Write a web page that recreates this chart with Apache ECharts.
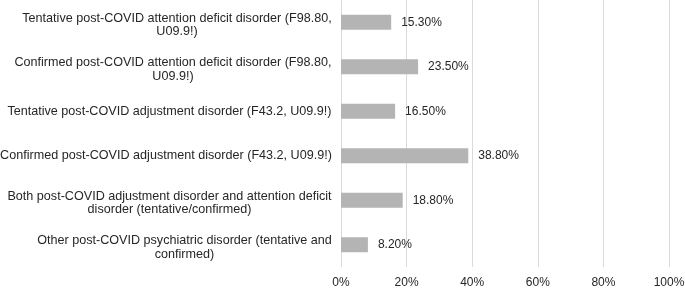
<!DOCTYPE html>
<html>
<head>
<meta charset="utf-8">
<script src="https://cdn.jsdelivr.net/npm/echarts@6/dist/echarts.min.js"></script>
<style>
  html, body { margin: 0; padding: 0; background: #fff; }
  #chart { width: 685px; height: 288px; }
</style>
</head>
<body>
<div id="chart"></div>
<script>
// categories, top to bottom (line breaks as in the original)
const categories = [
  'Tentative post-COVID attention deficit disorder (F98.80,\nU09.9!)',
  'Confirmed post-COVID attention deficit disorder (F98.80,\nU09.9!)',
  'Tentative post-COVID adjustment disorder (F43.2, U09.9!)',
  'Confirmed post-COVID adjustment disorder (F43.2, U09.9!)',
  'Both post-COVID adjustment disorder and attention deficit\ndisorder (tentative/confirmed)',
  'Other post-COVID psychiatric disorder (tentative and\nconfirmed)'
]
const percent = [15.3, 23.5, 16.5, 38.8, 18.8, 8.2]
const xTicks = [0, 20, 40, 60, 80, 100]

const FONT = '"Liberation Sans", Arial, sans-serif'
const TEXT_COLOR = '#262626'
const CAT_SIZE = 12.6

// each label block is right aligned, lines inside it centred;
// two-line blocks sit a little below the bar centre in the original
const ctx = document.createElement('canvas').getContext('2d')
ctx.font = CAT_SIZE + 'px ' + FONT
const rich = {}
categories.forEach((c, i) => {
  const w = Math.ceil(Math.max(...c.split('\n').map(l => ctx.measureText(l).width)))
  const base = { width: w, align: 'center', lineHeight: 14, fontSize: CAT_SIZE, fontFamily: FONT, color: TEXT_COLOR }
  rich['c' + i] = base
  rich['f' + i] = Object.assign({}, base, { lineHeight: 19, verticalAlign: 'bottom' })
})

const chart = echarts.init(document.getElementById('chart'), null, { renderer: 'canvas' })
chart.setOption({
  animation: false,
  grid: { left: 341, right: 16, top: 0, bottom: 21, containLabel: false, outerBoundsMode: 'none' },
  xAxis: {
    type: 'value',
    min: xTicks[0],
    max: xTicks[xTicks.length - 1],
    interval: 20,
    axisLine: { show: false },
    axisTick: { show: false },
    axisLabel: {
      margin: 10,
      fontSize: 12,
      fontFamily: FONT,
      color: TEXT_COLOR,
      formatter: v => v + '%'
    },
    splitLine: { show: true, lineStyle: { color: '#d9d9d9', width: 1 } }
  },
  yAxis: {
    type: 'category',
    inverse: true,
    data: categories,
    axisLine: { show: false },
    axisTick: { show: false },
    axisLabel: {
      interval: 0,
      margin: 9,
      rich: rich,
      formatter: (value, index) => {
        const lines = value.split('\n')
        return lines.map((l, k) => {
          const key = (k === 0 && lines.length > 1 ? 'f' : 'c') + index
          return '{' + key + '|' + l + '}'
        }).join('\n')
      }
    }
  },
  series: [
    {
      type: 'bar',
      data: percent,
      barWidth: 15,
      itemStyle: { color: '#b4b4b4' },
      label: {
        show: true,
        position: 'right',
        distance: 10,
        fontSize: 12,
        fontFamily: FONT,
        color: TEXT_COLOR,
        formatter: p => p.value.toFixed(2) + '%'
      }
    }
  ]
})
</script>
</body>
</html>
